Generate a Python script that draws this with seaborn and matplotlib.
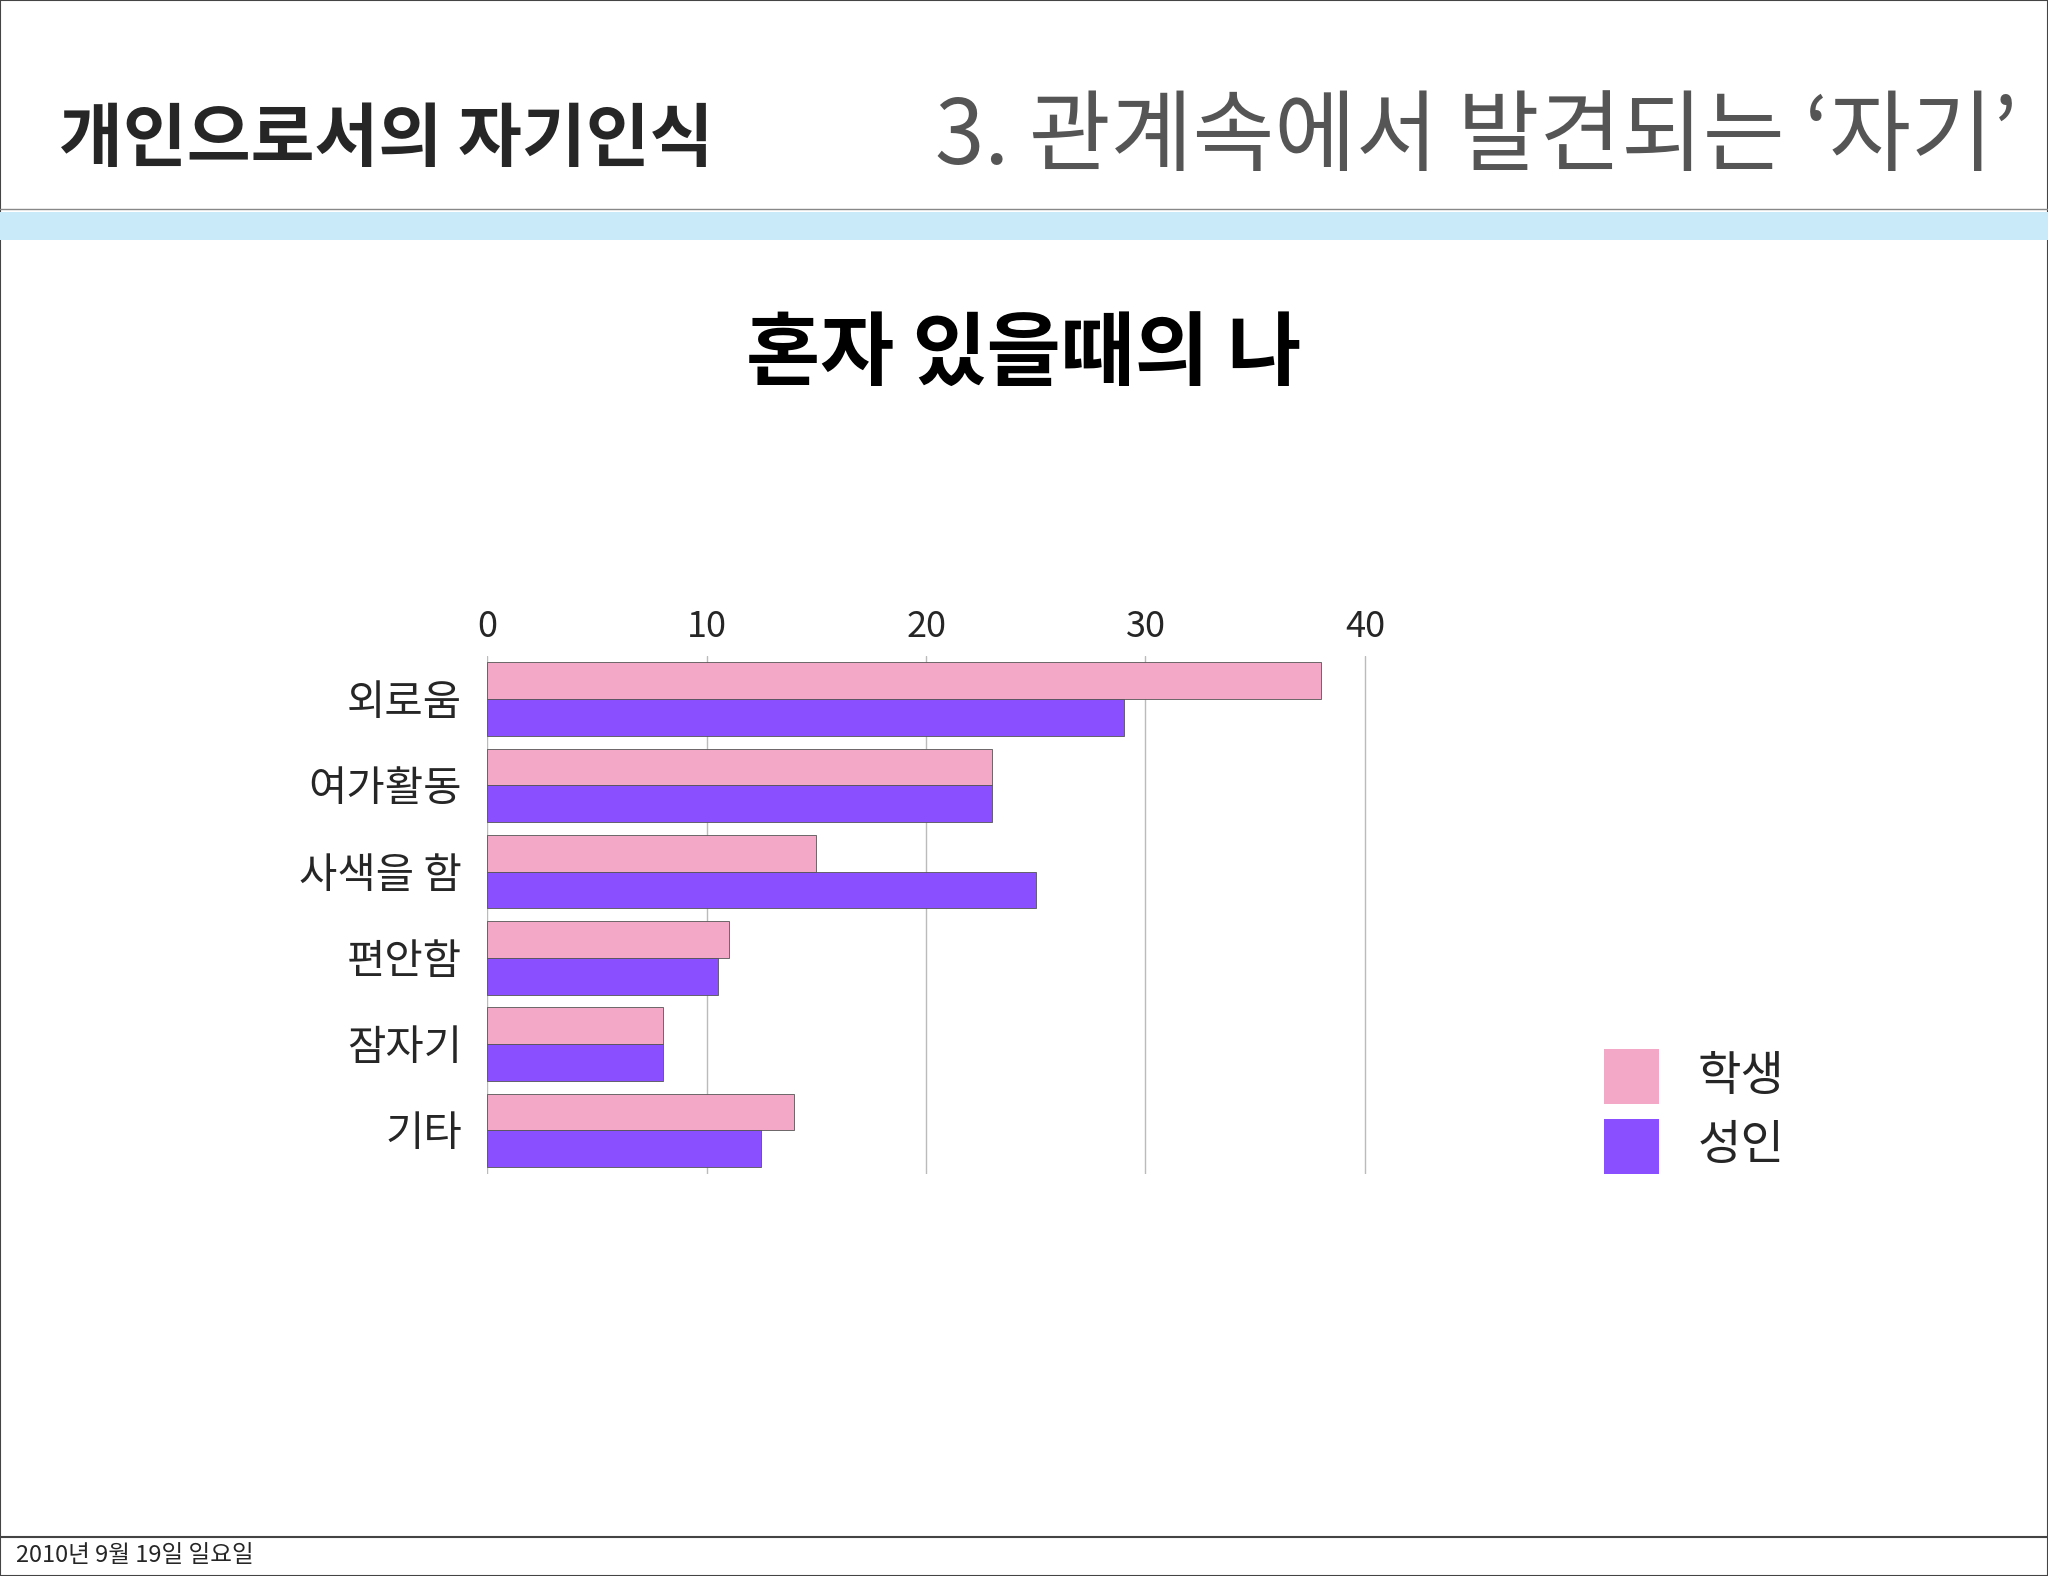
import matplotlib
matplotlib.use("Agg")
import matplotlib.pyplot as plt
import seaborn as sns
import pandas as pd
from matplotlib.patches import Rectangle

categories = ["외로움", "여가활동", "사색을 함", "편안함", "잠자기", "기타"]
students = [38, 23, 15, 11, 8, 14]
adults = [29, 23, 25, 10.5, 8, 12.5]
series = ["학생", "성인"]
ticks = [0, 10, 20, 30, 40]

sns.set_theme(style="white")
plt.rcParams['font.family'] = ['Noto Sans CJK KR', 'DejaVu Sans']

df = pd.DataFrame({
    "cat": categories * 2,
    "val": students + adults,
    "grp": [series[0]] * 6 + [series[1]] * 6,
})

W, H = 1568, 1206
fig = plt.figure(figsize=(20.48, 15.76), dpi=100)
fig.patch.set_facecolor("white")

def fx(x): return x / W
def fy(y): return 1 - y / H

fig.add_artist(Rectangle((0, 0), 1, 1, transform=fig.transFigure, fill=False, ec="#444444", lw=1.5))
fig.add_artist(Rectangle((0, fy(184)), 1, fy(162) - fy(184), transform=fig.transFigure, color="#C9EAF8", lw=0))
fig.add_artist(plt.Line2D([0, 1], [fy(160), fy(160)], transform=fig.transFigure, color="#888888", lw=1))
fig.add_artist(plt.Line2D([0, 1], [fy(1176), fy(1176)], transform=fig.transFigure, color="#444444", lw=1.5))

fig.text(fx(45), fy(108), "개인으로서의 자기인식", fontsize=50, fontweight="bold", va="center", ha="left")
fig.text(fx(1545), fy(106), "3. 관계속에서 발견되는 ‘자기’", fontsize=64, color="#555555", va="center", ha="right")
fig.text(fx(784), fy(272), "혼자 있을때의 나", fontsize=58, fontweight="bold", color="black", va="center", ha="center")
fig.text(fx(12), fy(1190), "2010년 9월 19일 일요일", fontsize=17, va="center", ha="left")

scale = 16.8
x0 = 373
ax = fig.add_axes([fx(x0), fy(898), 42 * scale / W, fy(502) - fy(898)])
sns.barplot(data=df, y="cat", x="val", hue="grp", orient="h", ax=ax,
            palette=["#F4A8C8", "#8A4FFF"], saturation=1, width=0.85,
            edgecolor="#555555", linewidth=0.6, legend=False)
ax.set_xlim(0, 42)
ax.set_xticks(ticks)
ax.xaxis.tick_top()
ax.tick_params(axis="x", labelsize=26, length=0, pad=8)
ax.tick_params(axis="y", labelsize=30, length=0, pad=18)
ax.set_xlabel("")
ax.set_ylabel("")
ax.grid(axis="x", color="#BBBBBB", lw=1)
ax.set_axisbelow(True)
for s in ax.spines.values():
    s.set_visible(False)

for i, (lab, col) in enumerate(zip(series, ["#F4A8C8", "#8A4FFF"])):
    ytop = 803 + i * 53
    fig.add_artist(Rectangle((fx(1228), fy(ytop + 42)), fx(42), fy(0) - fy(42),
                             transform=fig.transFigure, color=col, lw=0))
    fig.text(fx(1300), fy(ytop + 21), lab, fontsize=34, va="center", ha="left")

fig.savefig("out.png", dpi=100)
